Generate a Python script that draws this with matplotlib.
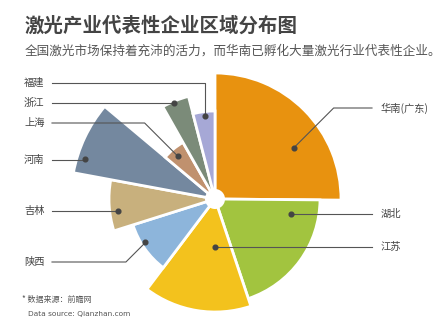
import numpy as np
import matplotlib
matplotlib.use("Agg")
import matplotlib.pyplot as plt

plt.rcParams['font.family'] = ['Noto Sans CJK SC', 'DejaVu Sans']

# 区域、扇形角度(度)、半径
regions = ['华南(广东)', '湖北', '江苏', '陕西', '吉林', '河南', '上海', '浙江', '福建']
spans = [90.5, 71, 55.5, 35.5, 28, 29.5, 20.5, 15, 14.5]
radii = [126, 105, 113, 86, 106, 144, 65, 106, 88]
colors = ['#E8920F', '#A2C43F', '#F3C21D', '#8DB5DB', '#C8B07D',
          '#74889F', '#C0916E', '#7B8B79', '#A6A8D6']

# 引线锚点 (角度, 半径) 和标签位置
anchor_ang = [33, -11, -90, -148, -173, 163, 131, 113, 97]
anchor_r = [94, 77, 48, 82, 98, 136, 57, 104, 84]
label_y = [108, 214, 247, 262, 211, 160, 123, 103, 83]
label_side = ['R', 'R', 'R', 'L', 'L', 'L', 'L', 'L', 'L']

W, H = 448, 332
cx, cy = 215, 199
R = 150

fig = plt.figure(figsize=(W / 100, H / 100), dpi=100)
fig.patch.set_facecolor('white')

# 玫瑰图
ax = fig.add_axes([(cx - R) / W, (H - cy - R) / H, 2 * R / W, 2 * R / H], projection='polar')
ax.set_ylim(0, R)
ends = 90 - np.cumsum(spans)
theta = np.deg2rad(ends)
ax.bar(theta, radii, width=np.deg2rad(spans), align='edge', color=colors,
       edgecolor='white', linewidth=2)
ax.bar(0, 10, width=2 * np.pi, color='white', linewidth=0)
ax.set_axis_off()

# 注释层 (像素坐标)
ov = fig.add_axes([0, 0, 1, 1], zorder=5)
ov.set_xlim(0, W)
ov.set_ylim(H, 0)
ov.set_axis_off()
ov.patch.set_alpha(0)

lc = '#555555'
for name, a, r, ly, side in zip(regions, anchor_ang, anchor_r, label_y, label_side):
    dx = cx + r * np.cos(np.deg2rad(a))
    dy = cy - r * np.sin(np.deg2rad(a))
    if side == 'L':
        if abs(dy - ly) < 3:
            xs, ys = [52, dx], [ly, ly]
        elif name == '福建':
            xs, ys = [52, dx, dx], [ly, ly, dy]
        else:
            ex = dx - abs(dy - ly)
            xs, ys = [52, ex, dx], [ly, ly, dy]
        ov.plot(xs, ys, color=lc, lw=0.8)
        ov.text(24, ly, name, ha='left', va='center', fontsize=7.4, color='#444444')
    else:
        if abs(dy - ly) < 3:
            xs, ys = [dx, 372], [ly, ly]
        else:
            ex = dx + abs(dy - ly)
            xs, ys = [dx, ex, 372], [dy, ly, ly]
        ov.plot(xs, ys, color=lc, lw=0.8)
        ov.text(381, ly, name, ha='left', va='center', fontsize=7.4, color='#444444')
    ov.plot(dx, dy, 'o', color='#444444', ms=3.4)

ov.text(25, 26, '激光产业代表性企业区域分布图', fontsize=14, fontweight='bold',
        color='#444444', ha='left', va='center')
ov.text(25, 51, '全国激光市场保持着充沛的活力，而华南已孵化大量激光行业代表性企业。',
        fontsize=9.05, color='#555555', ha='left', va='center')
ov.text(22, 299, '* 数据来源：前瞻网', fontsize=5.8, color='#555555', ha='left', va='center')
ov.text(28, 314, 'Data source: Qianzhan.com', fontsize=5.3, color='#555555',
        ha='left', va='center', family='DejaVu Sans')

fig.savefig('out.png', dpi=100)
